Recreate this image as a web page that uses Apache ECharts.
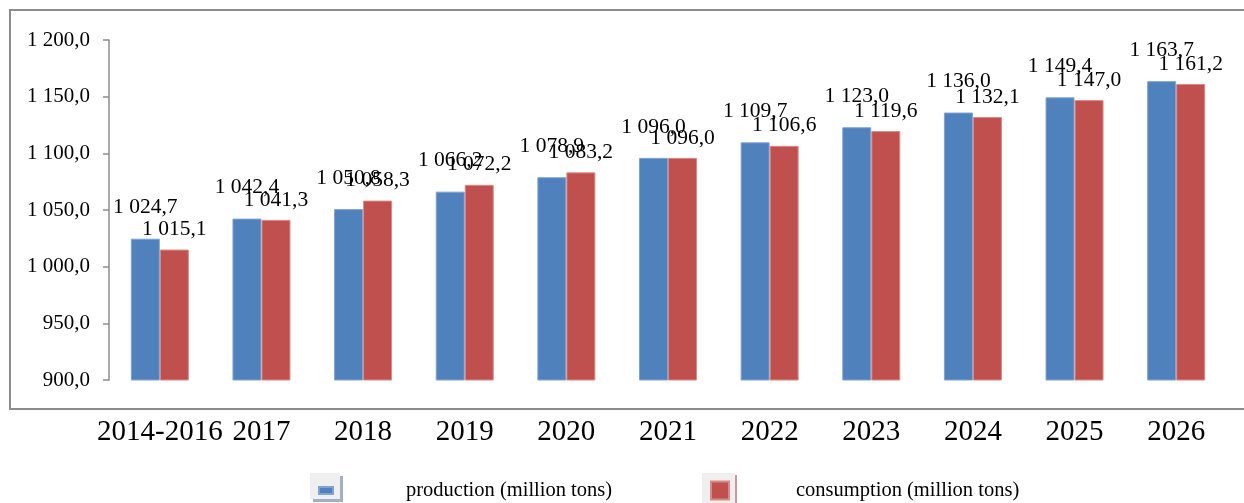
<!DOCTYPE html>
<html>
<head>
<meta charset="utf-8">
<script src="https://cdn.jsdelivr.net/npm/echarts@6/dist/echarts.min.js"></script>
<style>
html,body{margin:0;padding:0;background:#fff;}
#chart{width:1244px;height:503px;}
</style>
</head>
<body>
<div id="chart"></div>
<script>
const categories = ['2014-2016','2017','2018','2019','2020','2021','2022','2023','2024','2025','2026'];
const production = [1024.7,1042.4,1050.8,1066.2,1078.9,1096.0,1109.7,1123.0,1136.0,1149.4,1163.7];
const consumption = [1015.1,1041.3,1058.3,1072.2,1083.2,1096.0,1106.6,1119.6,1132.1,1147.0,1161.2];
const seriesNames = ['production (million tons)','consumption (million tons)'];
const yMin = 900, yMax = 1200, yStep = 50;

function fmt(v){
  const s = Number(v).toFixed(1);
  let [ip, dp] = s.split('.');
  ip = ip.replace(/\B(?=(\d{3})+(?!\d))/g, ' ');
  return ip + ',' + dp;
}

const FONT = '"Liberation Serif","Times New Roman",serif';
const chart = echarts.init(document.getElementById('chart'));
function makeLabel(dist){
  return {
    show: true, position: 'top', distance: dist,
    fontFamily: FONT, fontSize: 21.5, color: '#000',
    formatter: p => fmt(p.value)
  };
}
chart.setOption({
  animation: false,
  backgroundColor: '#fff',
  grid: {left: 109, right: 17, top: 40, bottom: 123, containLabel: false},
  xAxis: {
    type: 'category', data: categories,
    axisLine: {show: false}, axisTick: {show: false},
    axisLabel: {fontFamily: FONT, fontSize: 29, color: '#000', margin: 38, interval: 0}
  },
  yAxis: {
    type: 'value', min: yMin, max: yMax, interval: yStep,
    splitLine: {show: false},
    axisLine: {show: true, lineStyle: {color: '#8c8c8c', width: 1.5}},
    axisTick: {show: true, length: 6, lineStyle: {color: '#8c8c8c', width: 1.5}},
    axisLabel: {fontFamily: FONT, fontSize: 21, color: '#000', margin: 19, formatter: v => fmt(v)}
  },
  legend: [
    {data: [seriesNames[0]], left: 318, top: 480, padding: 0, icon: 'rect', itemWidth: 14, itemHeight: 7,
     selectedMode: false,
     textStyle: {fontFamily: FONT, fontSize: 20.5, color: '#000', padding: [0,0,0,68]}},
    {data: [seriesNames[1]], left: 710, top: 480, padding: 0, icon: 'rect', itemWidth: 18, itemHeight: 18,
     selectedMode: false,
     textStyle: {fontFamily: FONT, fontSize: 20.5, color: '#000', padding: [0,0,0,62]}}
  ],
  graphic: [
    {type: 'rect', shape: {x: 10, y: 10, width: 1240, height: 399}, style: {fill: 'none', stroke: '#8c8c8c', lineWidth: 2}, z: -10},
    {type: 'rect', shape: {x: 313, y: 476, width: 30, height: 26}, style: {fill: '#a3afc3'}, z: -5},
    {type: 'rect', shape: {x: 310, y: 473, width: 30, height: 26}, style: {fill: '#efefef'}, z: -4},
    {type: 'rect', shape: {x: 734, y: 475, width: 3, height: 28}, style: {fill: '#c49a9a'}, z: -5},
    {type: 'rect', shape: {x: 702, y: 473, width: 33, height: 30}, style: {fill: '#efefef'}, z: -4}
  ],
  series: [
    {name: seriesNames[0], type: 'bar', data: production, barWidth: 29, barGap: '0%',
     itemStyle: {color: '#4F81BD', borderColor: '#7ea3d4', borderWidth: 1},
     label: makeLabel(20)},
    {name: seriesNames[1], type: 'bar', data: consumption, barWidth: 29, barGap: '0%',
     itemStyle: {color: '#C0504D', borderColor: '#d98a88', borderWidth: 1},
     label: makeLabel(9)}
  ]
});
</script>
</body>
</html>
